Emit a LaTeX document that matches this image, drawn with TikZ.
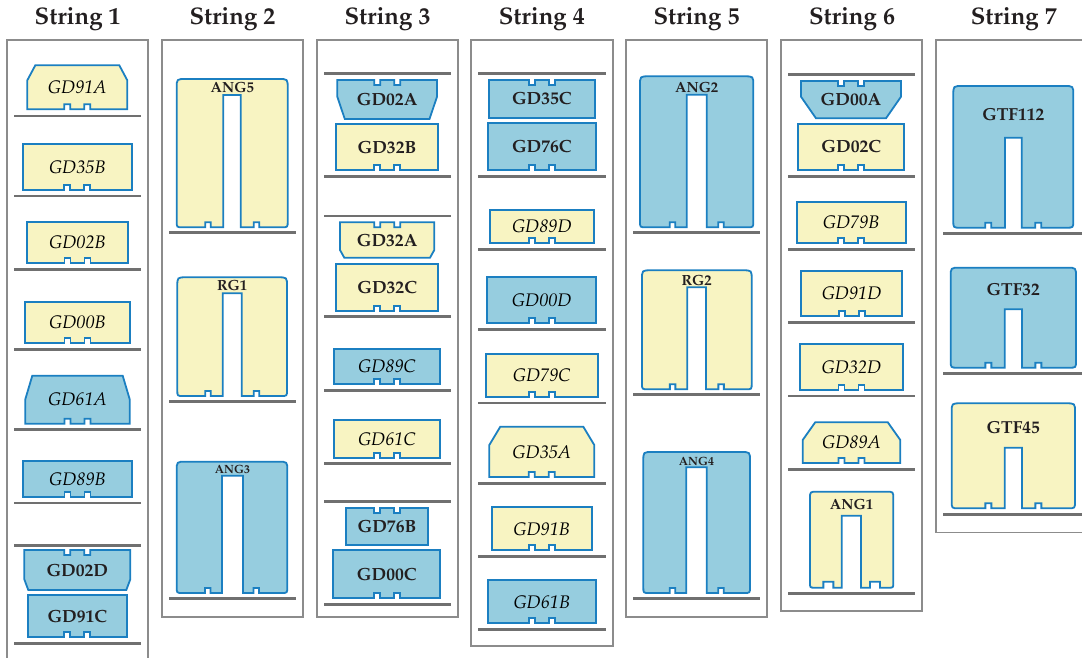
\documentclass[tikz,border=0pt]{standalone}
\usepackage[T1]{fontenc}
\usepackage{mathpazo}
\definecolor{pyel}{HTML}{F8F4C2}
\definecolor{pblu}{HTML}{96CDDF}
\definecolor{pline}{HTML}{1B7FC1}
\definecolor{shelfc}{HTML}{707070}
\definecolor{framec}{HTML}{8C8C8C}
\definecolor{txt}{HTML}{231F20}
\tikzset{
 piece/.style={draw=pline, line width=1.8pt, line join=miter},
 yelf/.style={fill=pyel}, bluf/.style={fill=pblu},
 itl/.style={font=\fontsize{18.2}{20}\selectfont\itshape, text=black, inner sep=0pt},
 upl/.style={font=\fontsize{17.6}{20}\selectfont\bfseries, text=txt, inner sep=0pt},
 frk/.style={font=\fontsize{14.7}{16}\selectfont\bfseries, text=txt, inner sep=0pt},
 frks/.style={font=\fontsize{11.9}{14}\selectfont\bfseries, text=txt, inner sep=0pt},
 gtf/.style={font=\fontsize{17.4}{20}\selectfont\bfseries, text=txt, inner sep=0pt},
 hdr/.style={font=\fontsize{24}{28}\selectfont\bfseries, text=txt, inner sep=0pt, anchor=base},
 shelfline/.style={draw=shelfc, line width=2.6pt},
 framebox/.style={draw=framec, line width=1.5pt},
}
% rectangle piece, notches on bottom
\newcommand{\pieceB}[7]{%
 \pgfmathsetmacro\pcx{(#1+#3)/2}\pgfmathsetmacro\pcy{(#2+#4)/2}%
 \draw[piece,#5] (#1,#2) -- (#3,#2) -- (#3,#4) -- ({\pcx+13},#4) -- ++(0,-5) -- ++(-6,0) -- ++(0,5)
   -- ({\pcx-7},#4) -- ++(0,-5) -- ++(-6,0) -- ++(0,5) -- (#1,#4) -- cycle;
 \node[#6] (#7) at (\pcx,\pcy) {#7};}
% rectangle piece, notches on top
\newcommand{\pieceT}[7]{%
 \pgfmathsetmacro\pcx{(#1+#3)/2}\pgfmathsetmacro\pcy{(#2+#4)/2}%
 \draw[piece,#5] (#1,#2) -- ({\pcx-13},#2) -- ++(0,5) -- ++(6,0) -- ++(0,-5)
   -- ({\pcx+7},#2) -- ++(0,5) -- ++(6,0) -- ++(0,-5) -- (#3,#2) -- (#3,#4) -- (#1,#4) -- cycle;
 \node[#6] (#7) at (\pcx,\pcy) {#7};}
% chamfered top, notches on bottom
\newcommand{\chamT}[9]{%
 \pgfmathsetmacro\pcx{(#1+#3)/2}\pgfmathsetmacro\pcy{(#2+#4)/2}%
 \draw[piece,#7] ({#1+#5},#2) -- ({#3-#5},#2) -- (#3,{#2+#6}) -- (#3,#4) -- ({\pcx+13},#4) -- ++(0,-5) -- ++(-6,0) -- ++(0,5)
   -- ({\pcx-7},#4) -- ++(0,-5) -- ++(-6,0) -- ++(0,5) -- (#1,#4) -- (#1,{#2+#6}) -- cycle;
 \node[#8] (#9) at (\pcx,\pcy) {#9};}
% chamfered bottom, notches on top
\newcommand{\chamB}[9]{%
 \pgfmathsetmacro\pcx{(#1+#3)/2}\pgfmathsetmacro\pcy{(#2+#4)/2}%
 \draw[piece,#7] (#1,#2) -- ({\pcx-13},#2) -- ++(0,5) -- ++(6,0) -- ++(0,-5)
   -- ({\pcx+7},#2) -- ++(0,5) -- ++(6,0) -- ++(0,-5) -- (#3,#2) -- (#3,{#4-#6}) -- ({#3-#5},#4)
   -- ({#1+#5},#4) -- (#1,{#4-#6}) -- cycle;
 \node[#8] (#9) at (\pcx,\pcy) {#9};}
% fork (U) piece: L T R B s1 s2 S fill
\def\na{21.5}\def\nb{27}\def\nd{5}\def\rt{9}\def\rb{6}
\newcommand{\fork}[8]{%
 \pgfmathsetmacro\pcx{(#1+#3)/2}%
 \draw[piece,#8] (#5,#4) -- ({\pcx-\na},#4) -- ({\pcx-\na},{#4-\nd}) -- ({\pcx-\nb},{#4-\nd}) -- ({\pcx-\nb},#4)
   -- ({#1+\rb},#4) .. controls (#1,#4) .. (#1,{#4-\rb}) -- (#1,{#2+\rt}) .. controls (#1,#2) .. ({#1+\rt},#2)
   -- ({#3-\rt},#2) .. controls (#3,#2) .. (#3,{#2+\rt}) -- (#3,{#4-\rb}) .. controls (#3,#4) .. ({#3-\rb},#4)
   -- ({\pcx+\nb},#4) -- ({\pcx+\nb},{#4-\nd}) -- ({\pcx+\na},{#4-\nd}) -- ({\pcx+\na},#4)
   -- (#6,#4) -- (#6,#7) -- (#5,#7) -- cycle;}
\newcommand{\shelves}[3]{\foreach \yy in {#3} {\draw[shelfline] (#1,\yy) -- (#2,\yy);}}
\begin{document}
\begin{tikzpicture}[x=1pt,y=-1pt]
\useasboundingbox (0,0) rectangle (1082,657);
% frames
\draw[framebox] (7,40) rectangle (148,675);
\draw[framebox] (162,40) rectangle (303,617);
\draw[framebox] (317,40) rectangle (458,617);
\draw[framebox] (471,40) rectangle (613,646);
\draw[framebox] (626,40) rectangle (767,617);
\draw[framebox] (781,40) rectangle (922,611);
\draw[framebox] (936,40) rectangle (1095,532.3);
% headers
\node[hdr] (h1) at (77.6,24) {String 1};
\node[hdr] (h2) at (232.5,24) {String 2};
\node[hdr] (h3) at (387.5,24) {String 3};
\node[hdr] (h4) at (541.8,24) {String 4};
\node[hdr] (h5) at (696.5,24) {String 5};
\node[hdr] (h6) at (852,24) {String 6};
\node[hdr] (h7) at (1013.8,24) {String 7};
% shelves
\shelves{14}{141}{116,196,269.3,349.3,429.7,503,545.3,643.7}
\shelves{169.3}{295.7}{232.7,401.3,598.7}
\shelves{324}{451}{73.3,176.7,216,316.7,390.3,463.7,501.3,604.3}
\shelves{478.3}{605.5}{73.3,176.3,249.3,329.3,403,483.3,556.7,629.7}
\shelves{633.3}{760}{232.7,394.7,598.7}
\shelves{788.3}{915}{74.3,176.7,249.3,322.7,396,469.3,593.3}
\shelves{943.3}{1090}{233.3,373.7,514.3}
% String 1
\chamT{27.3}{65.3}{127.3}{109.3}{8}{15}{yelf}{itl}{GD91A}
\pieceB{23}{144.3}{131.7}{190}{yelf}{itl}{GD35B}
\pieceB{27.3}{221.7}{127.7}{263.3}{yelf}{itl}{GD02B}
\pieceB{25}{301.7}{130}{343.3}{yelf}{itl}{GD00B}
\chamT{25.3}{375.7}{129.7}{423.7}{7}{23.6}{bluf}{itl}{GD61A}
\pieceB{23.3}{461.3}{131.7}{496.7}{bluf}{itl}{GD89B}
\chamB{24.3}{550}{130.3}{590}{4}{10.7}{bluf}{upl}{GD02D}
\pieceB{27.7}{595}{127}{637.3}{bluf}{upl}{GD91C}
% String 2
\fork{176.7}{79}{287.7}{227.3}{223.3}{240.7}{95}{yelf}
\node[frk] (ANG5) at (232.3,87.7) {ANG5};
\fork{177.3}{277.3}{287}{396}{222.7}{241.7}{293.3}{yelf}
\node[frk] (RG1) at (232.2,285.8) {RG1};
\fork{176.7}{461.7}{287.3}{593}{222}{243}{475.7}{bluf}
\node[frks] (ANG3) at (232.5,469.7) {ANG3};
% String 3
\chamB{337.3}{80}{437}{119}{7.5}{22.3}{bluf}{upl}{GD02A}
\pieceB{336}{124.3}{438}{170}{yelf}{upl}{GD32B}
\chamB{340}{222.3}{434.3}{257.7}{4.3}{7.7}{yelf}{upl}{GD32A}
\pieceB{336.3}{263.7}{438}{310.7}{yelf}{upl}{GD32C}
\pieceB{334}{348.7}{440}{384}{bluf}{itl}{GD89C}
\pieceB{334}{420}{439.7}{457.7}{yelf}{itl}{GD61C}
\pieceT{345.7}{507.7}{428.3}{545}{bluf}{upl}{GD76B}
\pieceB{333.3}{550}{440.3}{598.3}{bluf}{upl}{GD00C}
% String 4
\pieceT{488.7}{80}{595}{117.7}{bluf}{upl}{GD35C}
\pieceB{488}{123}{595.7}{170}{bluf}{upl}{GD76C}
\pieceB{490}{210.3}{593.7}{243}{yelf}{itl}{GD89D}
\pieceB{487.3}{277}{596.3}{322.7}{bluf}{itl}{GD00D}
\pieceB{485.7}{353.7}{597.7}{396.7}{yelf}{itl}{GD79C}
\chamT{489.3}{426.7}{594.3}{477}{11}{18.3}{yelf}{itl}{GD35A}
\pieceB{491.7}{507.3}{591.7}{550.3}{yelf}{itl}{GD91B}
\pieceB{488}{580.3}{595.7}{623.3}{bluf}{itl}{GD61B}
% String 5
\fork{640}{76.3}{753.3}{227.3}{686.7}{706.7}{94.7}{bluf}
\node[frk] (ANG2) at (696.7,87.5) {ANG2};
\fork{642}{270.3}{751.7}{389.3}{687.3}{706}{287.3}{yelf}
\node[frk] (RG2) at (696.7,280) {RG2};
\fork{643.3}{452}{750}{593}{686.3}{706.7}{467.3}{bluf}
\node[frks] (ANG4) at (696.5,461.8) {ANG4};
% String 6
\chamB{801}{81}{901}{118.3}{15}{21.6}{bluf}{upl}{GD00A}
\pieceB{798.3}{123.7}{904.3}{170}{yelf}{upl}{GD02C}
\pieceB{796.7}{201.7}{905.7}{243}{yelf}{itl}{GD79B}
\pieceB{801}{271}{902.3}{316}{yelf}{itl}{GD91D}
\pieceB{800.3}{344.3}{902.7}{390}{yelf}{itl}{GD32D}
\chamT{802.7}{422.3}{900.3}{463}{12.5}{17.7}{yelf}{itl}{GD89A}
\def\na{18.3}\def\nb{28.3}\def\nd{6}\def\rt{7}\def\rb{5}
\fork{810}{491.7}{893.3}{587.7}{841.7}{861}{515.7}{yelf}
\node[frk] (ANG1) at (851.5,504.7) {ANG1};
% String 7
\def\na{22}\def\nb{28}\def\nd{5}\def\rt{9}\def\rb{7}
\fork{953.3}{86}{1073.3}{227.7}{1005}{1021.7}{137.7}{bluf}
\node[gtf] (GTF112) at (1013.3,114.5) {GTF112};
\fork{950.7}{267.7}{1076}{367.7}{1004.7}{1022}{309.3}{bluf}
\node[gtf] (GTF32) at (1013.3,289.7) {GTF32};
\fork{951.7}{403.3}{1075}{508.3}{1004.7}{1022}{447.7}{yelf}
\node[gtf] (GTF45) at (1013.3,427.5) {GTF45};
\end{tikzpicture}
\end{document}
